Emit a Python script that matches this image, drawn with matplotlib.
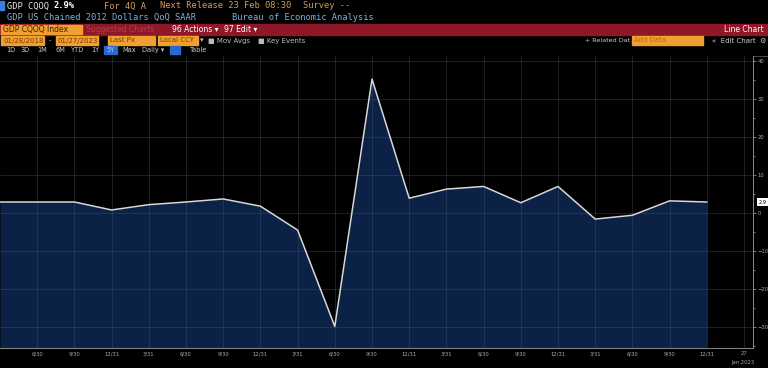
import numpy as np
import matplotlib
matplotlib.use("Agg")
import matplotlib.pyplot as plt
from matplotlib.patches import Rectangle

# quarterly GDP QoQ SAAR, 3/31/2018 .. 12/31/2022
quarters = ["3/31", "6/30", "9/30", "12/31"] * 5
gdp = [2.9, 2.9, 2.9, 0.8, 2.2, 2.9, 3.7, 1.8, -4.5, -29.9,
       35.3, 3.9, 6.3, 7.0, 2.7, 7.0, -1.6, -0.6, 3.2, 2.9]
tick_labels = quarters[1:] + ["27"]
y_ticks = [40, 30, 20, 10, 0, -10, -20, -30]
legend_names = ["Last Price", "High on 09/30/20", "Average", "Low on 06/30/20"]
legend_vals = ["2.9", "35.3", "2.6", "-29.9"]

W, H = 768, 368
fig = plt.figure(figsize=(W / 100, H / 100), dpi=100, facecolor="black")

# overlay in pixel coords for the terminal header
ov = fig.add_axes([0, 0, 1, 1], zorder=0)
ov.set_xlim(0, W)
ov.set_ylim(H, 0)
ov.axis("off")

mono = "DejaVu Sans Mono"
orange = "#f0a030"
tan = "#d8995a"
ov.add_patch(Rectangle((0, 1), 4, 9, color="#3d7fd8"))
ov.text(7, 6, "GDP CQOQ", color="#e8e8e8", fontsize=6.3, family=mono, va="center")
ov.text(53, 6, "2.9%", color="white", fontsize=6.3, family=mono, va="center",
        weight="bold")
ov.text(104, 6, "For 4Q A", color=tan, fontsize=6.3, family=mono, va="center")
ov.text(160, 6, "Next Release 23 Feb 08:30", color=tan, fontsize=6.3, family=mono, va="center")
ov.text(303, 6, "Survey --", color=tan, fontsize=6.3, family=mono, va="center")
ov.text(7, 17, "GDP US Chained 2012 Dollars QoQ SAAR", color="#7fb0d8", fontsize=6.3,
        family=mono, va="center")
ov.text(232, 17, "Bureau of Economic Analysis", color="#7fb0d8", fontsize=6.3,
        family=mono, va="center")

# red toolbar
ov.add_patch(Rectangle((0, 24), W, 11, color="#8e1728"))
ov.add_patch(Rectangle((1, 25), 81, 9, color=orange))
ov.text(3, 29.5, "GDP CQOQ Index", color="#3a2000", fontsize=5.5, va="center")
ov.text(86, 29.5, "Suggested Charts", color="#b0404a", fontsize=5.5, va="center")
ov.text(172, 29.5, "96 Actions \u25be", color="white", fontsize=5.5, va="center")
ov.text(224, 29.5, "97 Edit \u25be", color="white", fontsize=5.5, va="center")
ov.text(764, 29.5, "Line Chart", color="white", fontsize=5.5, va="center", ha="right")

# date / options row
for x0, w, s in [(1, 43, "01/28/2018"), (56, 42, "01/27/2023"),
                 (108, 47, "Last Px"), (158, 40, "Local CCY")]:
    ov.add_patch(Rectangle((x0, 36), w, 9, color=orange))
    ov.text(x0 + 2, 40.5, s, color="#7a3a00", fontsize=5, va="center")
ov.text(49, 40.5, "-", color="#cccccc", fontsize=5, va="center")
ov.text(200, 40.5, "\u25be", color="#cccccc", fontsize=5, va="center")
ov.text(208, 40.5, "\u25a0 Mov Avgs", color="#bbbbbb", fontsize=5, va="center")
ov.text(258, 40.5, "\u25a0 Key Events", color="#bbbbbb", fontsize=5, va="center")
ov.text(630, 40.5, "+ Related Dat", color="#cccccc", fontsize=4.6, va="center", ha="right")
ov.add_patch(Rectangle((632, 36), 71, 9, color=orange))
ov.text(634, 40.5, "Add Data", color="#c07000", fontsize=5, va="center")
ov.text(712, 40.5, "\u00ab  Edit Chart  \u2699", color="#cccccc", fontsize=5, va="center")

# range row
ov.add_patch(Rectangle((104, 46), 13, 8, color="#2a6ad0"))
ov.add_patch(Rectangle((170, 46), 10, 8, color="#2a6ad0"))
for x0, s in [(6, "1D"), (21, "3D"), (37, "1M"), (55, "6M"), (71, "YTD"),
              (91, "1Y"), (106, "5Y"), (122, "Max"), (142, "Daily \u25be"), (190, "Table")]:
    ov.text(x0, 50, s, color="#cccccc", fontsize=4.8, va="center")

ov.plot([0, W], [56, 56], color="#555555", lw=0.6)
ov.text(330, 60.5, "\u2022 Track    \u2215 Annotate    \u25a4 News    \u2197 Zoom",
        color="#888888", fontsize=3.6, va="center")

# chart
ax = fig.add_axes([0, 20 / H, 753 / W, 292 / H], zorder=1)
ax.set_facecolor("black")
x = np.arange(len(gdp))
ymin, ymax = -35.6, 41.4
ax.fill_between(x, gdp, ymin, color="#0b2145", lw=0, zorder=1)
ax.plot(x, gdp, color="#d8d8d8", lw=1.1, zorder=3)
ax.set_xlim(0, 753 / 37.2)
ax.set_ylim(ymin, ymax)

for v in y_ticks:
    ax.axhline(v, color="#4a5a70", lw=0.5, alpha=0.5, zorder=2)
for i in range(1, len(tick_labels) + 1):
    ax.axvline(i, color="#4a5a70", lw=0.5, alpha=0.5, zorder=2)

ax.set_xticks(np.arange(1, len(tick_labels) + 1))
ax.set_xticklabels(tick_labels)
ax.set_yticks(y_ticks)
ax.set_yticks(np.arange(-35, 41, 5), minor=True)
ax.yaxis.tick_right()
ax.tick_params(axis="both", colors="#aaaaaa", labelsize=3.8, length=2, width=0.5, pad=1.5)
ax.tick_params(axis="y", which="minor", colors="#aaaaaa", length=1.5, width=0.5)
ax.tick_params(axis="x", length=0, pad=2.5)
for s in ["top", "left"]:
    ax.spines[s].set_visible(False)
for s in ["right", "bottom"]:
    ax.spines[s].set_color("#8a8a8a")
    ax.spines[s].set_linewidth(0.7)

# last value box on axis
ax.annotate(legend_vals[0], xy=(1.0, gdp[-1]), xycoords=("axes fraction", "data"),
            xytext=(7, 0), textcoords="offset points", fontsize=3.6, color="black",
            va="center", ha="center",
            bbox=dict(boxstyle="square,pad=0.25", fc="white", ec="none"))
ax.text(743 / 753, -0.042, "Jan 2023", transform=ax.transAxes, color="#aaaaaa",
        fontsize=3.8, ha="center", va="top")

# legend block
ov.add_patch(Rectangle((5, 58), 72, 30, fill=False, ec="#333333", lw=0.5, zorder=5))
ov.add_patch(Rectangle((9, 60.5), 4, 4, color="white", zorder=6))
for k, (nm, vl) in enumerate(zip(legend_names, legend_vals)):
    yy = 62.5 + k * 6.4
    ov.text(15, yy, nm, fontsize=3.4, color="#333333", va="center", zorder=6,
            bbox=dict(boxstyle="square,pad=0.15", fc="#e8e8e8", ec="none"))
    ov.text(74, yy, vl, fontsize=3.6, color="#cccccc", va="center", ha="right", zorder=6)
    if k > 0:
        ov.plot([9, 13], [yy, yy], color="#999999", lw=0.5, zorder=6)

fig.savefig("out.png", dpi=100, facecolor="black")
